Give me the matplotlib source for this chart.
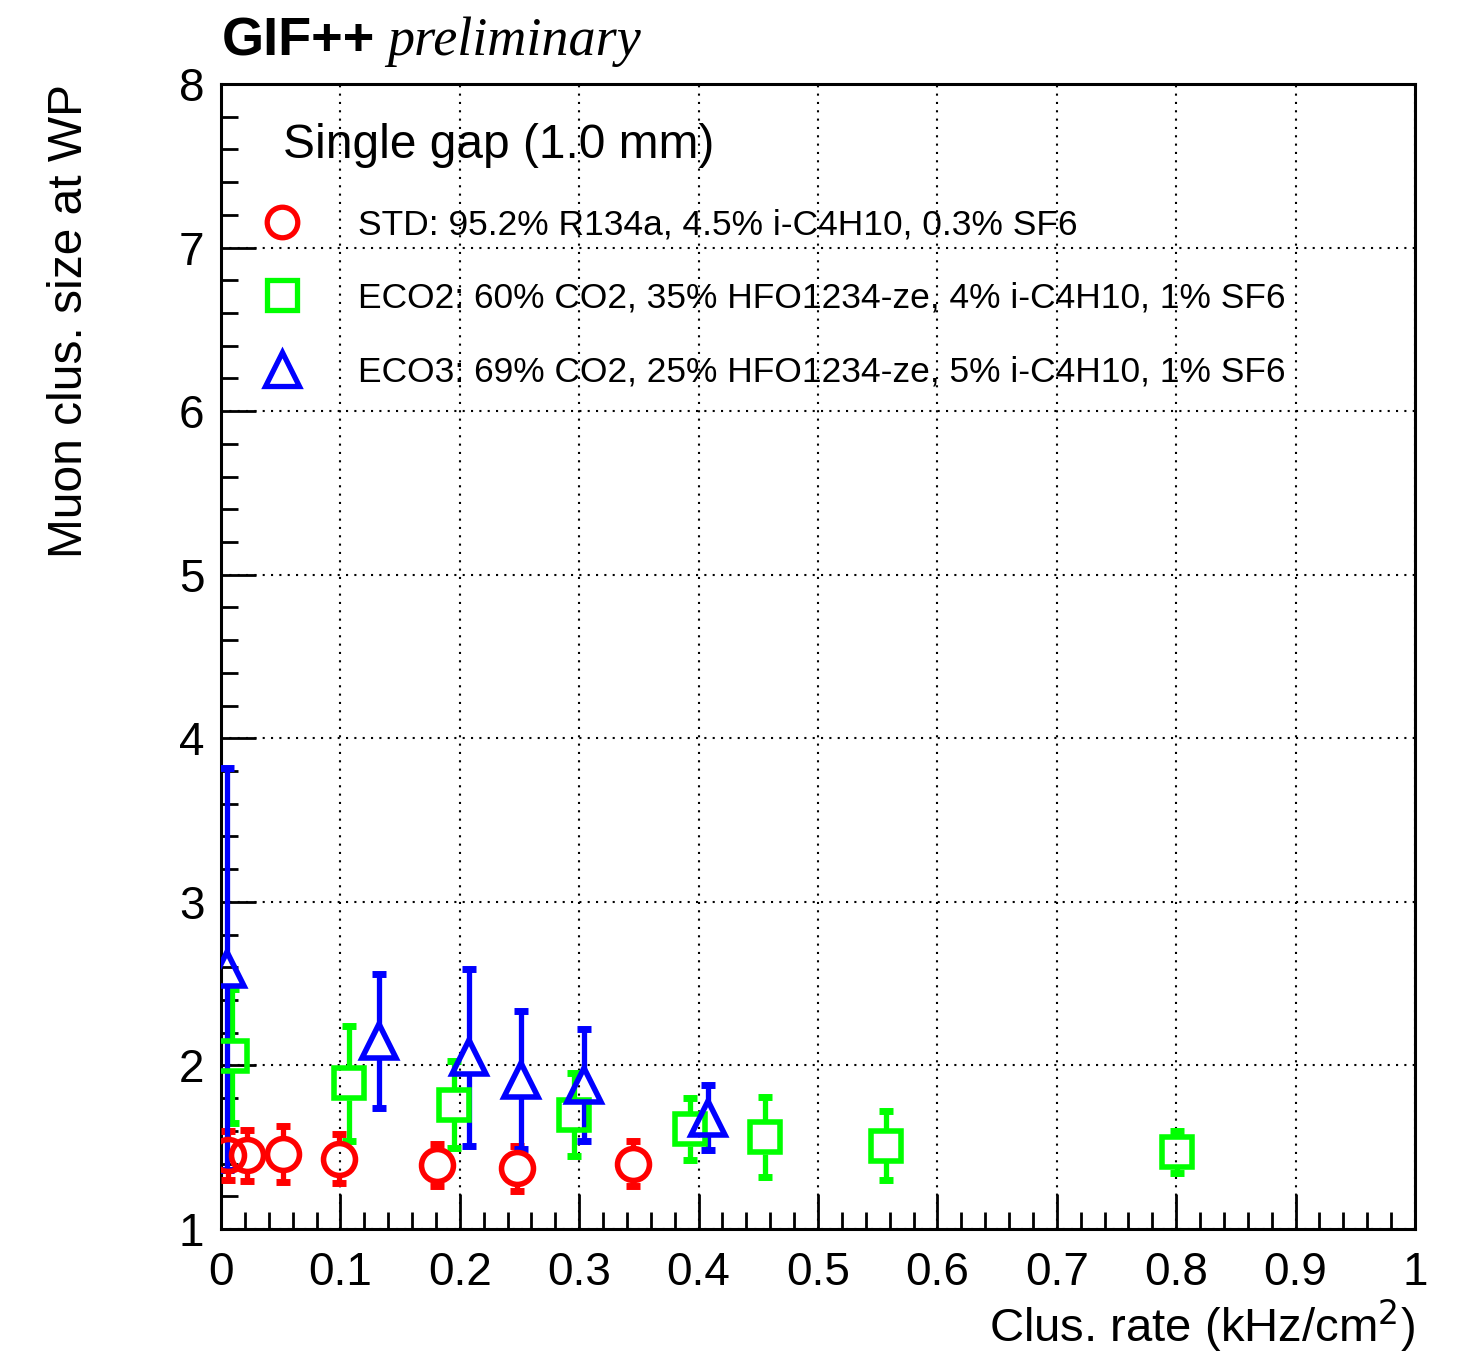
import matplotlib
matplotlib.use("Agg")
import matplotlib.pyplot as plt
from matplotlib.ticker import MultipleLocator

# cluster rate (kHz/cm2), muon cluster size at WP and its error
std_x = [0.006, 0.022, 0.052, 0.099, 0.181, 0.248, 0.345]
std_y = [1.45, 1.45, 1.46, 1.43, 1.39, 1.37, 1.40]
std_e = [0.15, 0.155, 0.17, 0.15, 0.13, 0.14, 0.135]

eco2_x = [0.009, 0.107, 0.195, 0.296, 0.393, 0.456, 0.557, 0.801]
eco2_y = [2.06, 1.89, 1.76, 1.70, 1.61, 1.56, 1.51, 1.47]
eco2_e = [0.41, 0.35, 0.265, 0.255, 0.19, 0.245, 0.21, 0.13]

eco3_x = [0.005, 0.132, 0.208, 0.251, 0.304, 0.408]
eco3_y = [2.59, 2.15, 2.05, 1.91, 1.88, 1.68]
eco3_e = [1.23, 0.41, 0.54, 0.42, 0.34, 0.20]

labels = ["STD: 95.2% R134a, 4.5% i-C4H10, 0.3% SF6",
          "ECO2: 60% CO2, 35% HFO1234-ze, 4% i-C4H10, 1% SF6",
          "ECO3: 69% CO2, 25% HFO1234-ze, 5% i-C4H10, 1% SF6"]

plt.rcParams['font.family'] = ['Liberation Sans', 'DejaVu Sans']

fig = plt.figure(figsize=(14.59, 13.53), dpi=100)
ax = fig.add_axes([221/1459, 1 - 1229/1353, (1415-221)/1459, (1229-84)/1353])

ax.set_xlim(0, 1)
ax.set_ylim(1, 8)


def draw_series(x, y, e, color, marker, ms, gap):
    # error bars stop at the marker edge, like ROOT's open markers
    for xi, yi, ei in zip(x, y, e):
        if ei > gap:
            ax.plot([xi, xi], [yi + gap, yi + ei], color=color, lw=3.8,
                    solid_capstyle='butt', zorder=3)
            ax.plot([xi, xi], [yi - ei, yi - gap], color=color, lw=3.8,
                    solid_capstyle='butt', zorder=3)
    ax.plot(x, [yi + ei for yi, ei in zip(y, e)], ls='none', marker='_',
            ms=10, mew=5, color=color, zorder=3)
    ax.plot(x, [yi - ei for yi, ei in zip(y, e)], ls='none', marker='_',
            ms=10, mew=5, color=color, zorder=3)
    ax.plot(x, y, ls='none', marker=marker, ms=ms, mfc='none',
            mec=color, mew=4.0, zorder=4)


draw_series(std_x, std_y, std_e, '#ff0000', 'o', 23, 0.10)
draw_series(eco2_x, eco2_y, eco2_e, '#00ff00', 's', 22, 0.10)
draw_series(eco3_x, eco3_y, eco3_e, '#0000ff', '^', 25, 0.10)

# axes styling
ax.xaxis.set_major_locator(MultipleLocator(0.1))
ax.xaxis.set_minor_locator(MultipleLocator(0.02))
ax.yaxis.set_major_locator(MultipleLocator(1))
ax.yaxis.set_minor_locator(MultipleLocator(0.2))
ax.tick_params(which='both', direction='in', top=False, right=False,
               width=2.0, labelsize=33)
ax.tick_params(which='major', length=25)
ax.tick_params(which='minor', length=12)
ax.tick_params(axis='x', which='major', pad=16)
ax.tick_params(axis='y', which='major', pad=12)
ax.xaxis.set_major_formatter(plt.FuncFormatter(lambda v, p: ('%g' % round(v, 2))))
for s in ax.spines.values():
    s.set_linewidth(2.2)
ax.grid(True, which='major', color='black', lw=1.5, ls=(0, (1, 3)))

fig.text(1415/1459, 1 - 1326/1353, 'Clus. rate (kHz/cm$^{2}$)', ha='right',
         va='center', fontsize=34)
fig.text(70/1459, 1 - 84/1353, 'Muon clus. size at WP', rotation=90,
         ha='center', va='top', fontsize=34.5)

# header
fig.text(222/1459, 1 - 55/1353, 'GIF++', fontsize=39, fontweight='bold',
         ha='left', va='baseline')
fig.text(387/1459, 1 - 55/1353, 'preliminary', fontsize=39, style='italic',
         family='Liberation Serif', ha='left', va='baseline')

# legend box
fig.text(283/1459, 1 - 145/1353, 'Single gap (1.0 mm)', fontsize=34.5,
         ha='left', va='center')
leg_colors = ['#ff0000', '#00ff00', '#0000ff']
leg_markers = ['o', 's', '^']
leg_y = [222, 295, 369]
for lab, c, m, yy in zip(labels, leg_colors, leg_markers, leg_y):
    fy = 1 - yy/1353
    fig.lines.append(plt.Line2D([282/1459], [fy], transform=fig.transFigure,
                                ls='none', marker=m, ms=22 if m != '^' else 24,
                                mfc='none', mec=c, mew=3.8))
    fig.text(358/1459, 1 - (yy + 3)/1353, lab, fontsize=25.5, ha='left',
             va='center')

fig.savefig('out.png', dpi=100)
